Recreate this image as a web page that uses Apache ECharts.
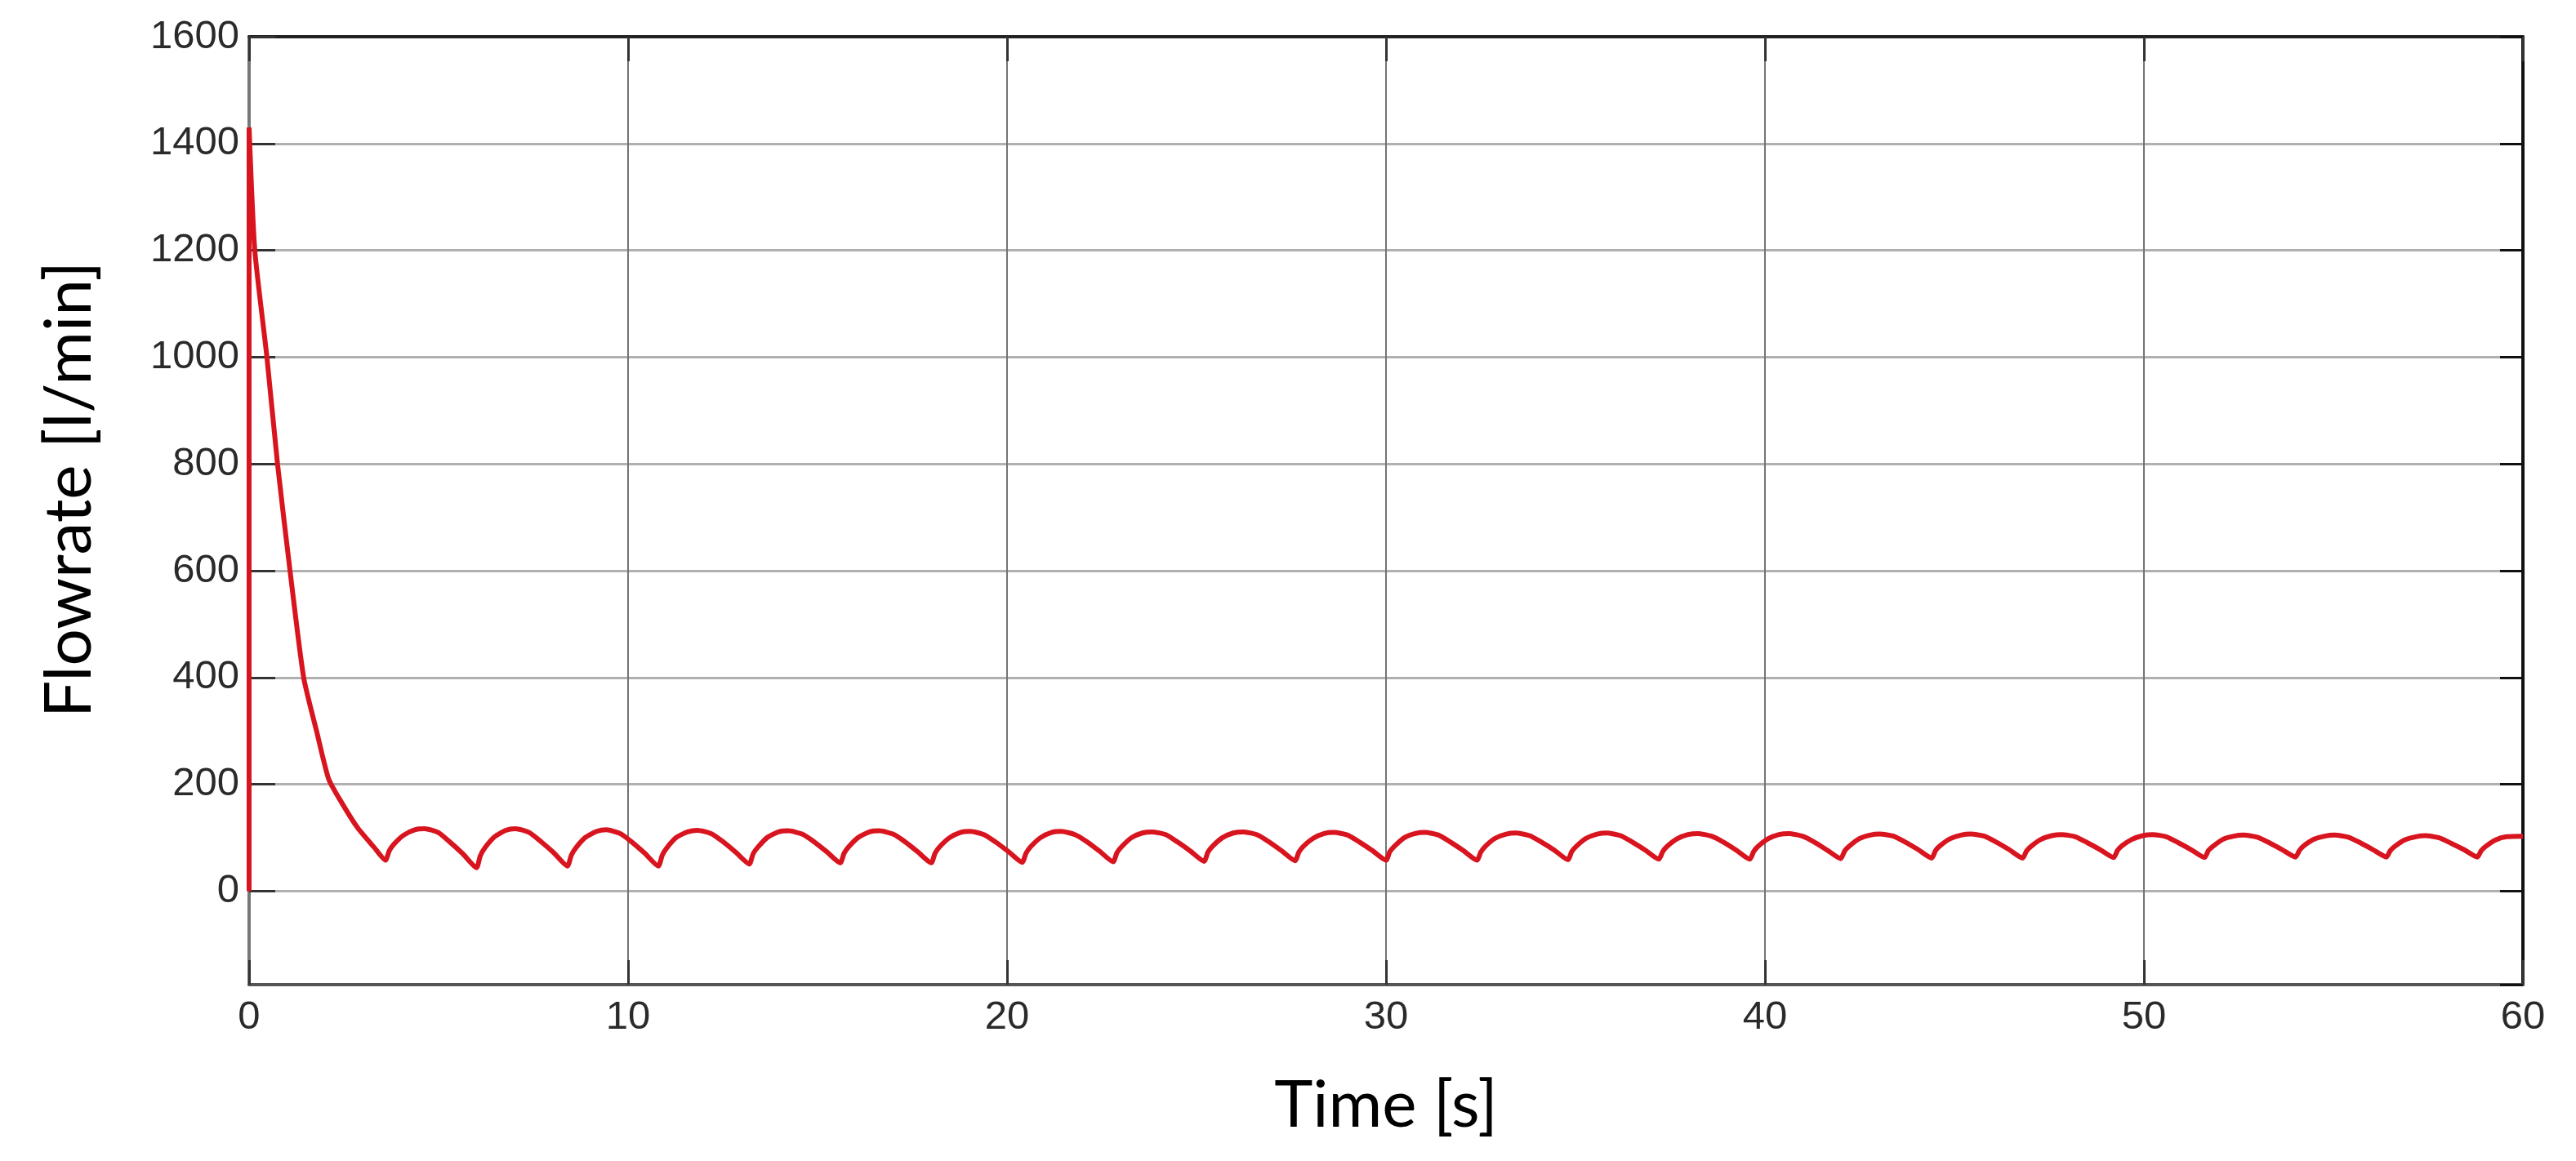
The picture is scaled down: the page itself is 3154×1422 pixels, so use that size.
<!DOCTYPE html>
<html>
<head>
<meta charset="utf-8">
<script src="https://cdn.jsdelivr.net/npm/echarts@6/dist/echarts.min.js"></script>
<style>
html, body { margin: 0; padding: 0; background: #fff; }
#flowChart { width: 3154px; height: 1422px; }
</style>
</head>
<body>
<div id="flowChart"></div>
<script>
// time [s] of each read point
var time = [
    0, 0, 0.15, 0.47, 0.75, 1.08, 1.44, 1.78, 2.10, 2.45, 2.87, 3.30,
    3.60, 3.70, 3.82, 4.08, 4.37, 4.63, 4.99, 5.30, 5.64,
    6.00, 6.10, 6.22, 6.48, 6.77, 7.03, 7.39, 7.70, 8.04,
    8.40, 8.50, 8.62, 8.88, 9.17, 9.43, 9.79, 10.10, 10.44,
    10.80, 10.90, 11.02, 11.28, 11.57, 11.83, 12.19, 12.50, 12.84,
    13.20, 13.30, 13.42, 13.68, 13.97, 14.23, 14.59, 14.90, 15.24,
    15.60, 15.70, 15.82, 16.08, 16.37, 16.63, 16.99, 17.30, 17.64,
    18.00, 18.10, 18.22, 18.48, 18.77, 19.03, 19.39, 19.70, 20.04,
    20.40, 20.50, 20.62, 20.88, 21.17, 21.43, 21.79, 22.10, 22.44,
    22.80, 22.90, 23.02, 23.28, 23.57, 23.83, 24.19, 24.50, 24.84,
    25.20, 25.30, 25.42, 25.68, 25.97, 26.23, 26.59, 26.90, 27.24,
    27.60, 27.70, 27.82, 28.08, 28.37, 28.63, 28.99, 29.30, 29.64,
    30.00, 30.10, 30.22, 30.48, 30.77, 31.03, 31.39, 31.70, 32.04,
    32.40, 32.50, 32.62, 32.88, 33.17, 33.43, 33.79, 34.10, 34.44,
    34.80, 34.90, 35.02, 35.28, 35.57, 35.83, 36.19, 36.50, 36.84,
    37.20, 37.30, 37.42, 37.68, 37.97, 38.23, 38.59, 38.90, 39.24,
    39.60, 39.70, 39.82, 40.08, 40.37, 40.63, 40.99, 41.30, 41.64,
    42.00, 42.10, 42.22, 42.48, 42.77, 43.03, 43.39, 43.70, 44.04,
    44.40, 44.50, 44.62, 44.88, 45.17, 45.43, 45.79, 46.10, 46.44,
    46.80, 46.90, 47.02, 47.28, 47.57, 47.83, 48.19, 48.50, 48.84,
    49.20, 49.30, 49.42, 49.68, 49.97, 50.23, 50.59, 50.90, 51.24,
    51.60, 51.70, 51.82, 52.08, 52.37, 52.63, 52.99, 53.30, 53.64,
    54.00, 54.10, 54.22, 54.48, 54.77, 55.03, 55.39, 55.70, 56.04,
    56.40, 56.50, 56.62, 56.88, 57.17, 57.43, 57.79, 58.10, 58.44,
    58.80, 58.90, 59.02, 59.28, 59.57, 60.00
];

// flowrate [l/min] at the same points
var flow = [
    0, 1430, 1200, 1000, 800, 600, 400, 300, 210, 165, 118, 82,
    58, 76, 88, 105, 115, 117, 110, 92, 70,
    44, 66, 81, 102, 114, 117, 110, 93, 72,
    47, 67, 81, 101, 112, 115, 108, 92, 71,
    47, 67, 81, 101, 111, 114, 108, 93, 73,
    51, 70, 82, 101, 111, 113, 107, 93, 74,
    53, 71, 83, 101, 111, 113, 107, 93, 74,
    53, 71, 83, 100, 110, 112, 106, 92, 74,
    54, 71, 83, 100, 110, 112, 106, 93, 75,
    55, 72, 83, 100, 109, 111, 106, 92, 75,
    56, 73, 84, 100, 109, 111, 106, 93, 76,
    57, 73, 84, 99, 108, 110, 105, 92, 76,
    58, 74, 84, 100, 108, 110, 105, 92, 76,
    58, 73, 84, 99, 107, 109, 104, 92, 77,
    59, 74, 84, 99, 107, 109, 104, 92, 77,
    60, 74, 84, 98, 106, 108, 103, 92, 77,
    60, 74, 84, 98, 106, 108, 103, 92, 77,
    61, 75, 84, 98, 105, 107, 103, 92, 78,
    62, 76, 85, 98, 105, 107, 103, 92, 78,
    62, 75, 84, 97, 104, 106, 102, 91, 78,
    63, 76, 85, 97, 104, 106, 102, 91, 78,
    63, 76, 84, 97, 103, 105, 101, 91, 78,
    64, 76, 85, 97, 103, 105, 101, 91, 78,
    64, 76, 84, 96, 102, 104, 100, 90, 78,
    64, 76, 84, 96, 102, 103
];

var xRange = [0, 60];
var yRange = [-175, 1600];

var tickFont = "'Liberation Sans', Arial, sans-serif";
var nameFont = "Lato, 'Open Sans', sans-serif";

var points = time.map(function (t, i) { return [t, flow[i]]; });

var myChart = echarts.init(document.getElementById('flowChart'), null, { renderer: 'canvas' });

var plainNumber = function (v) { return String(v); };

var myChartOption = {
    animation: false,
    backgroundColor: '#ffffff',
    grid: {
        left: 305,
        right: 65,
        top: 45,
        bottom: 216,
        containLabel: false,
        outerBoundsMode: 'none'
    },
    xAxis: [
        {
            type: 'value',
            position: 'bottom',
            min: xRange[0],
            max: xRange[1],
            interval: 10,
            name: 'Time [s]',
            nameLocation: 'middle',
            nameGap: 108,
            nameTextStyle: { fontFamily: nameFont, fontSize: 80, color: '#000' },
            axisLine: { onZero: false, lineStyle: { color: '#555', width: 4 } },
            axisTick: { inside: true, length: 30, lineStyle: { color: '#333', width: 3 } },
            axisLabel: { fontFamily: tickFont, fontSize: 49, color: '#2a2a2a', margin: 16, formatter: plainNumber },
            splitLine: { show: true, lineStyle: { color: '#747474', width: 2 } }
        },
        {
            type: 'value',
            position: 'top',
            min: xRange[0],
            max: xRange[1],
            interval: 10,
            axisLine: { onZero: false, lineStyle: { color: '#222', width: 4 } },
            axisTick: { inside: true, length: 30, lineStyle: { color: '#333', width: 3 } },
            axisLabel: { show: false },
            splitLine: { show: false }
        }
    ],
    yAxis: [
        {
            type: 'value',
            position: 'left',
            min: yRange[0],
            max: yRange[1],
            splitNumber: 9,
            minInterval: 200,
            maxInterval: 200,
            name: 'Flowrate [l/min]',
            nameLocation: 'middle',
            nameGap: 180,
            nameTextStyle: { fontFamily: nameFont, fontSize: 80, color: '#000', padding: [0, 0, 0, 52] },
            axisLine: { onZero: false, lineStyle: { color: '#777', width: 4 } },
            axisTick: { inside: true, length: 32, lineStyle: { color: '#333', width: 3 } },
            axisLabel: { fontFamily: tickFont, fontSize: 49, color: '#2a2a2a', margin: 12, showMinLabel: false, formatter: plainNumber },
            splitLine: { show: true, lineStyle: { color: '#b0b0b0', width: 3 } }
        },
        {
            type: 'value',
            position: 'right',
            min: yRange[0],
            max: yRange[1],
            splitNumber: 9,
            minInterval: 200,
            maxInterval: 200,
            axisLine: { show: true, onZero: false, lineStyle: { color: '#111', width: 4 } },
            axisTick: { show: true, inside: true, length: 28, lineStyle: { color: '#111', width: 3 } },
            axisLabel: { show: false },
            splitLine: { show: false }
        }
    ],
    series: [
        {
            type: 'line',
            data: points,
            showSymbol: false,
            smooth: 0.2,
            lineStyle: { color: '#d8141f', width: 6 },
            z: 5
        }
    ]
};

myChart.setOption(myChartOption);
</script>
</body>
</html>
